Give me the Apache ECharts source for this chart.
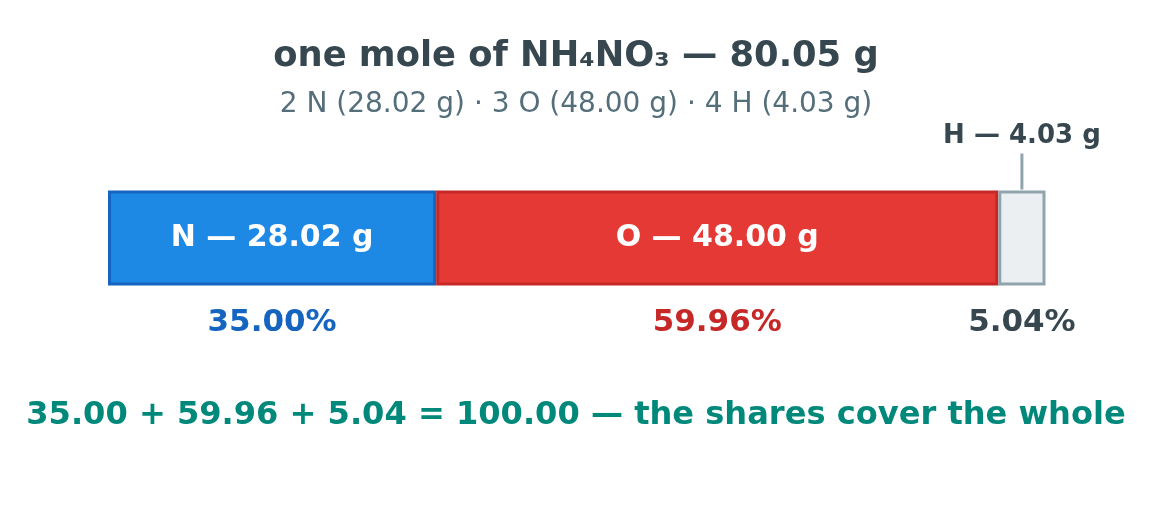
<!DOCTYPE html>
<html><head><meta charset="utf-8">
<script src="https://cdn.jsdelivr.net/npm/echarts@6/dist/echarts.min.js"></script>
<style>html,body{margin:0;padding:0;background:#fff}#c{width:1152px;height:508px}</style>
</head><body><div id="c"></div>
<script>
const elements = ['N', 'O', 'H'];
const masses = [28.02, 48.00, 4.03];
const percentLabels = ['35.00%', '59.96%', '5.04%'];
const totalMass = 80.05;
const titleText = 'one mole of NH₄NO₃ — 80.05 g';
const subText = '2 N (28.02 g) · 3 O (48.00 g) · 4 H (4.03 g)';
const footText = '35.00 + 59.96 + 5.04 = 100.00 — the shares cover the whole';

const fills = ['#1E88E5', '#E53935', '#ECEFF1'];
const borders = ['#1565C0', '#C62828', '#90A4AE'];
const pctColors = ['#1565C0', '#C62828', '#37474F'];
const FONT = 'DejaVu Sans';

const chart = echarts.init(document.getElementById('c'), null, {renderer: 'canvas'});
const series = [];
elements.forEach((el, i) => {
  const isH = el === 'H';
  series.push({
    type: 'bar', stack: 'a', xAxisIndex: 0, yAxisIndex: 0, barWidth: 95,
    data: [masses[i]], silent: true,
    itemStyle: {color: fills[i], borderColor: borders[i], borderWidth: 3},
    label: isH ? {
      show: true, position: ['50%', -1], align: 'center', verticalAlign: 'bottom',
      formatter: '{t|' + el + ' — ' + masses[i].toFixed(2) + ' g}\n{l|}',
      rich: {
        t: {fontFamily: FONT, fontWeight: 'bold', fontSize: 26, color: '#37474F', lineHeight: 34, align: 'center'},
        l: {width: 3, height: 36, lineHeight: 36, backgroundColor: '#90A4AE', align: 'center'}
      }
    } : {
      show: true, position: 'inside', formatter: el + ' — ' + masses[i].toFixed(2) + ' g',
      fontFamily: FONT, fontWeight: 'bold', fontSize: 30, color: '#ffffff'
    }
  });
  series.push({
    type: 'bar', stack: 'b', xAxisIndex: 1, yAxisIndex: 1, barWidth: 95,
    data: [masses[i]], silent: true, z: 1,
    itemStyle: {color: 'rgba(0,0,0,0)'},
    label: {
      show: true, position: ['50%', 132], align: 'center', verticalAlign: 'middle',
      formatter: percentLabels[i], fontFamily: FONT, fontWeight: 'bold', fontSize: 31, color: pctColors[i]
    }
  });
});

chart.setOption({
  animation: false,
  title: [
    {text: titleText, left: 'center', top: 34, textStyle: {fontFamily: FONT, fontWeight: 'bold', fontSize: 35.3, color: '#37474F'}},
    {text: subText, left: 'center', top: 86, textStyle: {fontFamily: FONT, fontWeight: 'normal', fontSize: 28, color: '#546E7A'}},
    {text: footText, left: 'center', top: 395, textStyle: {fontFamily: FONT, fontWeight: 'bold', fontSize: 32.1, color: '#00897B'}}
  ],
  grid: {left: 108, right: 106.5, top: 190.5, height: 95},
  xAxis: [
    {type: 'value', min: 0, max: totalMass, show: false},
    {type: 'value', min: 0, max: totalMass, show: false, gridIndex: 0}
  ],
  yAxis: [
    {type: 'category', data: ['NH4NO3'], show: false},
    {type: 'category', data: ['NH4NO3'], show: false, gridIndex: 0}
  ],
  series: series
});
</script></body></html>
